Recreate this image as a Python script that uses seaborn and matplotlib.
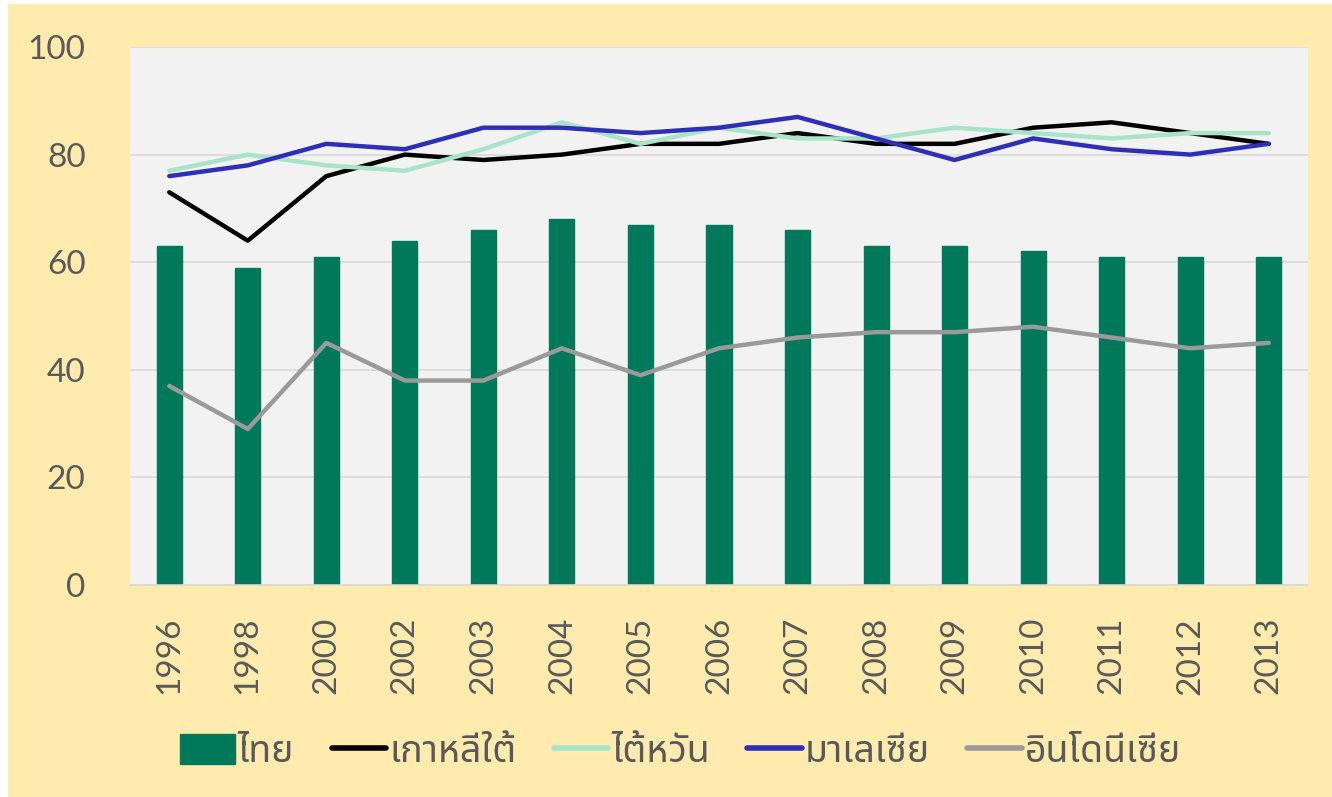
import numpy as np
import pandas as pd
import seaborn as sns
import matplotlib
matplotlib.use("Agg")
import matplotlib.pyplot as plt
from matplotlib import font_manager
from matplotlib.ft2font import FT2Font
from matplotlib.patches import Patch, Rectangle
from matplotlib.lines import Line2D

years = ["1996", "1998", "2000", "2002", "2003", "2004", "2005", "2006",
         "2007", "2008", "2009", "2010", "2011", "2012", "2013"]
thailand = [63, 59, 61, 64, 66, 68, 67, 67, 66, 63, 63, 62, 61, 61, 61]
korea = [73, 64, 76, 80, 79, 80, 82, 82, 84, 82, 82, 85, 86, 84, 82]
taiwan = [77, 80, 78, 77, 81, 86, 82, 85, 83, 83, 85, 84, 83, 84, 84]
malaysia = [76, 78, 82, 81, 85, 85, 84, 85, 87, 83, 79, 83, 81, 80, 82]
indonesia = [37, 29, 45, 38, 38, 44, 39, 44, 46, 47, 47, 48, 46, 44, 45]

names = ["ไทย", "เกาหลีใต้", "ไต้หวัน", "มาเลเซีย", "อินโดนีเซีย"]
yticks = [0, 20, 40, 60, 80, 100]

# find a font with Thai glyphs
def thai_family():
    pref = ["Noto Sans Thai", "Noto Sans Thai Looped", "Loma", "Garuda",
            "Norasi", "TlwgTypo", "Kinnari", "Waree", "Sawasdee"]
    found = {}
    for fe in font_manager.fontManager.ttflist:
        try:
            f = FT2Font(fe.fname)
            cm = f.get_charmap()
            if 0x0E44 in cm and 0x0E2B in cm:
                found[fe.name] = True
        except Exception:
            pass
    for p in pref:
        if p in found:
            return p
    if found:
        return sorted(found)[0]
    return "DejaVu Sans"

sns.set_theme(style="white")
tf = thai_family()
plt.rcParams["font.family"] = ["Lato", tf, "DejaVu Sans"]

TXT = "#595959"
fig = plt.figure(figsize=(13.32, 7.97), dpi=100)
fig.patch.set_facecolor("white")
fig.add_artist(Rectangle((8 / 1332, 0), 1 - 8 / 1332, 1 - 4 / 797,
                         transform=fig.transFigure, facecolor="#FFEBAD",
                         edgecolor="none", zorder=0))
ax = fig.add_axes([130 / 1332, 1 - 585 / 797, 1178 / 1332, 538 / 797])
ax.set_facecolor("#F2F2F2")

bar_df = pd.DataFrame({"year": years, "value": thailand})
sns.barplot(data=bar_df, x="year", y="value", color="#00785A", width=0.32,
            saturation=1, ax=ax, zorder=2, edgecolor="#00785A")

series = [(korea, "#000000"), (taiwan, "#A8E4CA"), (malaysia, "#2E2EB8"),
          (indonesia, "#9A9A9A")]
for vals, col in series:
    d = pd.DataFrame({"year": years, "value": vals})
    sns.pointplot(data=d, x="year", y="value", color=col, markers="",
                  errorbar=None, ax=ax, linewidth=3.2, zorder=3)

ax.set_xlim(-0.5, len(years) - 0.5)
ax.set_ylim(0, 100)
ax.set_yticks(yticks)
ax.set_yticklabels([str(v) for v in yticks])
ax.set_xlabel("")
ax.set_ylabel("")
ax.grid(axis="y", color="#D9D9D9", linewidth=1.2, zorder=0)
ax.set_axisbelow(True)
for s in ["top", "right", "left"]:
    ax.spines[s].set_visible(False)
ax.spines["bottom"].set_color("#D9D9D9")
ax.spines["bottom"].set_linewidth(1.2)
ax.tick_params(axis="y", labelsize=24, colors=TXT, length=0, pad=32)
ax.tick_params(axis="x", labelsize=24, colors=TXT, length=0, pad=23,
               labelrotation=90)

handles = [Patch(facecolor="#00785A", edgecolor="#00785A")]
for vals, col in series:
    handles.append(Line2D([0], [0], color=col, linewidth=4))
leg = fig.legend(handles, names, loc="center", bbox_to_anchor=(0.511, 1 - 752 / 797),
                 ncol=5, frameon=False, handlelength=1.45, handleheight=0.85,
                 handletextpad=0.08, columnspacing=1.0,
                 prop={"family": [tf, "DejaVu Sans"], "size": 27})
for t in leg.get_texts():
    t.set_color(TXT)

fig.savefig("out.png", dpi=100, facecolor=fig.get_facecolor())
